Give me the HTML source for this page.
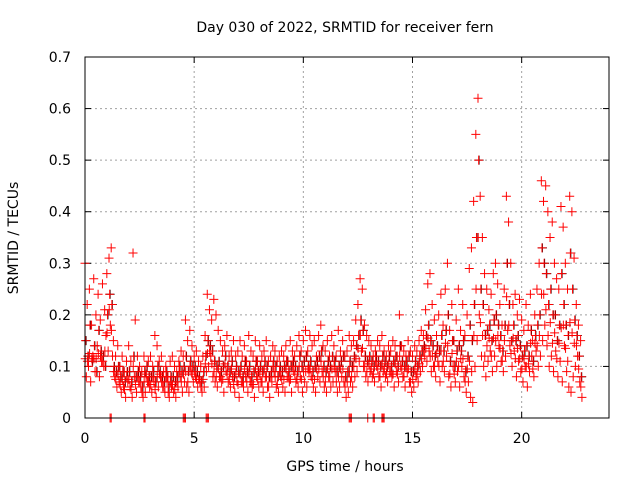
<!DOCTYPE html>
<html><head><meta charset="utf-8"><style>
body{margin:0;background:#fff;}
svg text{font-family:"DejaVu Sans","Liberation Sans",sans-serif;font-size:14px;fill:#000;}
</style></head><body>
<svg id="chart" width="640" height="480" xmlns="http://www.w3.org/2000/svg">
<rect width="640" height="480" fill="#fff"/>
<text x="345" y="32" text-anchor="middle">Day 030 of 2022, SRMTID for receiver fern</text>
<text x="345" y="471" text-anchor="middle">GPS time / hours</text>
<text transform="translate(18,238) rotate(-90)" text-anchor="middle">SRMTID / TECUs</text>
<g id="grid"></g><g id="ticks"></g><g id="pts"></g>
<rect x="85" y="57" width="524" height="361" fill="none" stroke="#000" stroke-width="1"/>
</svg>
<script>
const xTicks=[0,5,10,15,20];
const yTicks=[0,0.1,0.2,0.3,0.4,0.5,0.6,0.7];
const yTickLabels=["0","0.1","0.2","0.3","0.4","0.5","0.6","0.7"];
const tStep=0.1;
const srmtidHigh=[.30,.22,.25,.18,.27,.20,.24,.19,.26,.21,
.28,.31,.33,.15,.12,.14,.10,.12,.09,.11,
.14,.11,.32,.19,.12,.10,.09,.12,.08,.11,
.12,.10,.16,.14,.11,.12,.09,.10,.08,.11,
.12,.10,.09,.11,.13,.12,.19,.15,.17,.14,
.12,.13,.11,.10,.12,.16,.24,.21,.19,.23,
.20,.17,.15,.13,.14,.16,.12,.13,.15,.12,
.13,.15,.12,.14,.11,.16,.13,.12,.15,.11,
.14,.12,.13,.15,.11,.12,.14,.13,.11,.12,
.13,.12,.14,.11,.15,.13,.12,.14,.16,.13,
.15,.17,.13,.16,.14,.15,.12,.16,.18,.14,
.13,.15,.12,.16,.14,.12,.17,.13,.15,.12,
.13,.16,.14,.15,.19,.22,.27,.25,.18,.16,
.15,.14,.12,.13,.15,.14,.16,.13,.12,.14,
.13,.15,.14,.12,.20,.14,.13,.12,.15,.13,
.12,.14,.13,.15,.17,.16,.21,.26,.28,.22,
.19,.16,.20,.24,.18,.25,.30,.17,.22,.15,
.19,.25,.17,.22,.16,.20,.29,.33,.42,.55,
.62,.43,.35,.28,.25,.21,.24,.28,.30,.26,
.22,.18,.25,.43,.38,.30,.22,.24,.20,.23,
.19,.17,.22,.18,.24,.15,.20,.25,.30,.46,
.42,.45,.40,.35,.38,.30,.27,.25,.41,.37,
.30,.25,.43,.40,.31,.22,.18,.15];
const srmtidMid=[.15,.12,.18,.11,.14,.09,.17,.13,.12,.10,
.20,.24,.22,.10,.09,.10,.08,.09,.07,.09,
.09,.07,.12,.08,.09,.08,.06,.09,.10,.08,
.08,.09,.07,.10,.09,.08,.07,.09,.06,.08,
.08,.07,.08,.10,.09,.10,.12,.09,.11,.10,
.10,.09,.08,.07,.09,.12,.15,.14,.13,.11,
.10,.11,.09,.10,.12,.10,.09,.11,.08,.10,
.09,.10,.08,.11,.09,.10,.08,.09,.11,.09,
.10,.09,.11,.10,.08,.09,.11,.10,.08,.10,
.09,.10,.11,.09,.10,.11,.10,.09,.12,.10,
.11,.12,.10,.11,.09,.10,.11,.12,.13,.10,
.09,.11,.10,.12,.11,.09,.10,.11,.12,.08,
.09,.11,.10,.12,.14,.16,.19,.17,.12,.11,
.12,.11,.10,.12,.11,.10,.12,.11,.10,.12,
.10,.11,.12,.10,.14,.11,.10,.11,.12,.09,
.09,.11,.10,.12,.13,.14,.16,.18,.15,.14,
.12,.14,.13,.16,.13,.17,.20,.11,.15,.10,
.13,.14,.13,.15,.09,.12,.18,.15,.22,.35,
.50,.25,.22,.16,.17,.18,.15,.19,.20,.18,
.16,.13,.18,.30,.22,.15,.18,.15,.16,.14,
.12,.13,.14,.12,.17,.11,.16,.18,.20,.33,
.30,.28,.22,.25,.20,.20,.15,.18,.28,.22,
.18,.16,.32,.25,.19,.16,.12,.08];
const srmtidLow=[.08,.10,.07,.12,.09,.14,.08,.11,.10,.16,
.13,.18,.12,.08,.06,.07,.05,.06,.04,.07,
.06,.04,.08,.05,.07,.06,.04,.05,.07,.06,
.05,.07,.04,.06,.08,.06,.05,.07,.04,.06,
.05,.04,.06,.08,.05,.07,.06,.05,.09,.07,
.08,.06,.07,.05,.06,.09,.10,.12,.08,.07,
.06,.08,.07,.05,.09,.07,.06,.08,.05,.07,
.04,.07,.06,.08,.05,.07,.06,.04,.08,.06,
.07,.05,.08,.06,.04,.07,.09,.06,.05,.08,
.06,.05,.08,.07,.05,.09,.07,.06,.08,.05,
.07,.06,.09,.08,.06,.05,.08,.07,.09,.06,
.05,.08,.06,.07,.09,.05,.06,.08,.07,.04,
.05,.07,.06,.08,.09,.11,.13,.10,.08,.07,
.09,.08,.07,.10,.08,.06,.09,.08,.07,.09,
.08,.06,.09,.07,.10,.08,.06,.09,.07,.05,
.06,.08,.07,.09,.10,.12,.11,.13,.09,.10,
.08,.11,.07,.10,.09,.12,.08,.06,.10,.07,
.09,.06,.10,.08,.05,.07,.04,.03,.10,.15,
.20,.12,.10,.08,.11,.13,.09,.12,.10,.14,
.11,.09,.12,.17,.14,.10,.13,.08,.11,.09,
.07,.10,.06,.09,.12,.08,.13,.10,.12,.15,
.18,.14,.10,.12,.09,.13,.08,.11,.07,.14,
.09,.06,.05,.08,.10,.12,.07,.04];
const zeroTimes=[1.15,1.2,2.7,2.75,4.5,4.55,4.6,5.55,5.6,5.65,12.1,12.15,12.2,12.95,13.2,13.25,13.6,13.65,13.7];
const X0=85,X1=609,Y0=418,Y1=57,XMAX=24,YMAX=0.7;
const xs=v=>X0+(X1-X0)*v/XMAX, ys=v=>Y0-(Y0-Y1)*v/YMAX;
const NS="http://www.w3.org/2000/svg";
const grid=document.getElementById('grid'),ticks=document.getElementById('ticks'),pts=document.getElementById('pts');
function mk(tag,attrs,parent){const e=document.createElementNS(NS,tag);for(const k in attrs)e.setAttribute(k,attrs[k]);parent.appendChild(e);return e;}
xTicks.forEach(v=>{const x=xs(v);
 if(v>0){const g=mk('line',{x1:x,x2:x,y1:Y0,y2:Y1,stroke:'#a0a0a0','stroke-dasharray':'2,3'},grid);
 
 }
 const t=mk('text',{x:x,y:443,'text-anchor':'middle'},ticks);t.textContent=v;
 
 
 mk('line',{x1:x,x2:x,y1:Y0,y2:Y0-6,stroke:'#000'},ticks);mk('line',{x1:x,x2:x,y1:Y1,y2:Y1+6,stroke:'#000'},ticks);});
yTicks.forEach((v,i)=>{const y=ys(v);
 if(v>0&&v<YMAX){const g=mk('line',{x1:X0,x2:X1,y1:y,y2:y,stroke:'#a0a0a0','stroke-dasharray':'2,3'},grid);
 
 }
 const t=mk('text',{x:71,y:y+5,'text-anchor':'end'},ticks);t.textContent=yTickLabels[i];
 
 
 mk('line',{x1:X0,x2:X0+6,y1:y,y2:y,stroke:'#000'},ticks);mk('line',{x1:X1,x2:X1-6,y1:y,y2:y,stroke:'#000'},ticks);});
function plus(t,v,color){const x=xs(t),y=ys(v);
 const p=mk('path',{d:`M${x-4.5},${y}H${x+4.5}M${x},${y-4.5}V${y+4.5}`,stroke:color,'stroke-width':1,fill:'none'},pts);
 
 }
srmtidMid.forEach((v,i)=>plus(i*tStep+0.05,v,'#000'));
srmtidHigh.forEach((v,i)=>plus(i*tStep,v,'#f00'));
srmtidMid.forEach((v,i)=>plus(i*tStep+0.03,v,'#f00'));
srmtidLow.forEach((v,i)=>plus(i*tStep+0.06,v,'#f00'));
srmtidLow.forEach((v,i)=>plus(i*tStep+0.01,(v+srmtidMid[i])/2,'#f00'));
zeroTimes.forEach(t=>plus(t,0,'#f00'));
</script>
</body></html>
